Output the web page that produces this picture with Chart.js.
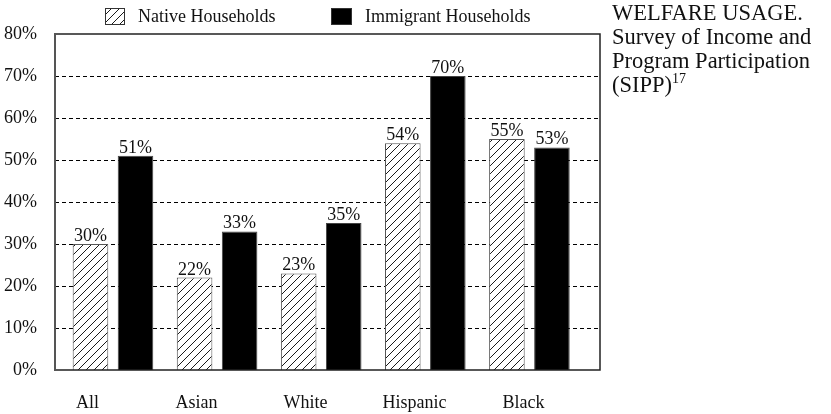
<!DOCTYPE html>
<html>
<head>
<meta charset="utf-8">
<script src="https://cdn.jsdelivr.net/npm/chart.js@4/dist/chart.umd.min.js"></script>
<style>
  body { margin: 0; background: #fff; }
  #wrap { position: relative; width: 831px; height: 414px; }
  #note {
    position: absolute; left: 612px; top: 1px; width: 220px;
    font-family: "Liberation Serif", serif; font-size: 22.5px; line-height: 24px; color: #111;
  }
  #note sup { font-size: 14px; vertical-align: 9px; line-height: 0; }
</style>
</head>
<body>
<div id="wrap">
  <canvas id="chart" width="831" height="414"></canvas>
  <div id="note">WELFARE USAGE.<br>Survey of Income and<br>Program Participation<br>(SIPP)<sup>17</sup></div>
</div>
<script>
var categories = ["All", "Asian", "White", "Hispanic", "Black"];
var nativeValues = [30, 22, 23, 54, 55];
var immigrantValues = [51, 33, 35, 70, 53];
var yTicks = [0, 10, 20, 30, 40, 50, 60, 70, 80];

var serif = "'Liberation Serif', serif";

function makeHatch() {
    var c = document.createElement("canvas");
    c.width = 8;
    c.height = 8;
    var g = c.getContext("2d");
    g.fillStyle = "#fff";
    g.fillRect(0, 0, 8, 8);
    g.strokeStyle = "#000";
    g.lineWidth = 0.9;
    g.beginPath();
    g.moveTo(0, 8); g.lineTo(8, 0);
    g.moveTo(-4, 4); g.lineTo(4, -4);
    g.moveTo(4, 12); g.lineTo(12, 4);
    g.stroke();
    return document.getElementById("chart").getContext("2d").createPattern(c, "repeat");
}
var hatch = makeHatch();

// bars sit on their own index axis (xb), the labels on the category axis (x)
function toPoints(values) {
    return values.map(function(v, i) { return { x: i, y: v }; });
}

var framePlugin = {
    id: "frame",
    beforeDatasetsDraw: function(chart) {
        var ctx = chart.ctx;
        var a = chart.chartArea;
        var y = chart.scales.y;
        ctx.save();
        ctx.strokeStyle = "#000";
        ctx.lineWidth = 1;
        ctx.setLineDash([4, 3]);
        yTicks.forEach(function(v) {
            if (v === 0 || v === 80) return;
            var py = Math.round(y.getPixelForValue(v)) + 0.5;
            ctx.beginPath();
            ctx.moveTo(a.left, py);
            ctx.lineTo(a.right, py);
            ctx.stroke();
        });
        ctx.restore();
    },
    afterDatasetsDraw: function(chart) {
        var ctx = chart.ctx;
        var a = chart.chartArea;
        ctx.save();
        ctx.strokeStyle = "#222";
        ctx.lineWidth = 1.5;
        ctx.beginPath();
        ctx.moveTo(a.left, a.top);
        ctx.lineTo(a.right, a.top);
        ctx.lineTo(a.right, a.bottom);
        ctx.lineTo(a.left, a.bottom);
        ctx.stroke();
        ctx.strokeStyle = "#555";
        ctx.lineWidth = 2;
        ctx.beginPath();
        ctx.moveTo(a.left, a.top - 1);
        ctx.lineTo(a.left, a.bottom + 1);
        ctx.stroke();

        // value labels
        ctx.fillStyle = "#111";
        ctx.font = "18px " + serif;
        ctx.textAlign = "center";
        ctx.textBaseline = "alphabetic";
        chart.data.datasets.forEach(function(ds, i) {
            var meta = chart.getDatasetMeta(i);
            meta.data.forEach(function(bar, j) {
                ctx.fillText(ds.data[j].y + "%", bar.x, bar.y - 3);
            });
        });

        // legend
        var items = [
            { x: 105, w: 20, fill: hatch, text: chart.data.datasets[0].label },
            { x: 331, w: 21, fill: "#000", text: chart.data.datasets[1].label }
        ];
        ctx.textAlign = "left";
        ctx.textBaseline = "middle";
        items.forEach(function(it) {
            ctx.fillStyle = it.fill;
            ctx.fillRect(it.x, 8, it.w, 17);
            ctx.strokeStyle = "#333";
            ctx.lineWidth = 1;
            ctx.strokeRect(it.x + 0.5, 8.5, it.w - 1, 16);
            ctx.fillStyle = "#111";
            ctx.fillText(it.text, it.x + it.w + 13, 17);
        });
        ctx.restore();
    }
};

var ctx = document.getElementById("chart").getContext("2d");
var chart = new Chart(ctx, {
    type: "bar",
    data: {
        labels: categories,
        datasets: [{
            label: "Native Households",
            data: toPoints(nativeValues),
            xAxisID: "xb",
            backgroundColor: hatch,
            borderColor: "#555",
            borderWidth: 1
        }, {
            label: "Immigrant Households",
            data: toPoints(immigrantValues),
            xAxisID: "xb",
            backgroundColor: "#000",
            borderColor: "#444",
            borderWidth: 1
        }]
    },
    options: {
        responsive: false,
        animation: false,
        layout: { padding: { left: 4, right: 231, top: 34, bottom: 0 } },
        categoryPercentage: 0.865,
        barPercentage: 0.79,
        plugins: {
            legend: { display: false },
            tooltip: { enabled: false }
        },
        scales: {
            xb: {
                type: "linear",
                position: "bottom",
                display: false,
                offset: false,
                grid: { offset: false },
                min: -0.557,
                max: 4.678,
                afterBuildTicks: function(axis) {
                    axis.ticks = categories.map(function(c, i) { return { value: i }; });
                }
            },
            x: {
                type: "category",
                position: "bottom",
                offset: true,
                afterFit: function(axis) { axis.height = 44; },
                grid: { display: false, drawTicks: false, tickLength: 0 },
                border: { display: false },
                ticks: {
                    color: "#111",
                    padding: 22,
                    maxRotation: 0,
                    minRotation: 0,
                    labelOffset: -22,
                    font: { family: serif, size: 18 }
                }
            },
            y: {
                min: 0,
                max: 80,
                afterFit: function(axis) { axis.width = 51; },
                afterBuildTicks: function(axis) {
                    axis.ticks = yTicks.map(function(v) { return { value: v }; });
                },
                grid: { display: false, drawTicks: false, tickLength: 0 },
                border: { display: false },
                ticks: {
                    color: "#111",
                    padding: 18,
                    font: { family: serif, size: 18 },
                    callback: function(v) { return v + "%"; }
                }
            }
        }
    },
    plugins: [framePlugin]
});
</script>
</body>
</html>
